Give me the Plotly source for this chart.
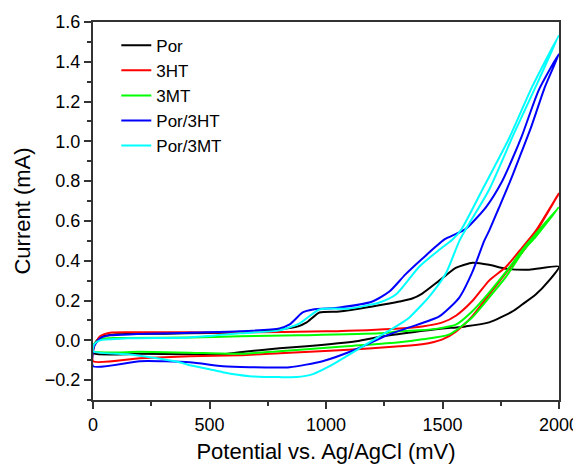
import plotly.graph_objects as go

# ---------------- data (mV, mA) ----------------
por_fwd_x = [0, 5, 30, 100, 300, 630, 800, 880, 917, 972, 1058, 1199, 1272, 1315, 1370, 1413, 1486, 1559, 1630, 1700, 1773, 1872, 2000]
por_fwd_y = [-0.065, -0.02, 0.015, 0.03, 0.033, 0.04, 0.055, 0.07, 0.09, 0.14, 0.145, 0.17, 0.185, 0.195, 0.21, 0.235, 0.30, 0.365, 0.39, 0.38, 0.36, 0.355, 0.37]
por_rev_x = [2000, 1957, 1900, 1842, 1800, 1700, 1600, 1559, 1500, 1400, 1242, 1130, 917, 800, 630, 550, 400, 200, 0]
por_rev_y = [0.37, 0.30, 0.23, 0.18, 0.145, 0.09, 0.07, 0.065, 0.06, 0.045, 0.02, -0.005, -0.03, -0.04, -0.06, -0.07, -0.07, -0.068, -0.065]

p3ht_fwd_x = [0, 5, 30, 73, 200, 415, 630, 1000, 1315, 1413, 1500, 1559, 1630, 1700, 1773, 1842, 1900, 2000]
p3ht_fwd_y = [-0.105, -0.03, 0.02, 0.038, 0.04, 0.04, 0.04, 0.045, 0.06, 0.07, 0.09, 0.125, 0.2, 0.30, 0.37, 0.466, 0.55, 0.74]
p3ht_rev_x = [2000, 1900, 1860, 1773, 1700, 1627, 1559, 1500, 1413, 1315, 1058, 800, 630, 415, 200, 0]
p3ht_rev_y = [0.74, 0.54, 0.47, 0.34, 0.23, 0.12, 0.045, 0.005, -0.02, -0.03, -0.05, -0.065, -0.075, -0.08, -0.09, -0.105]

p3mt_fwd_x = [0, 5, 30, 100, 415, 630, 886, 1229, 1315, 1400, 1486, 1559, 1627, 1700, 1773, 1850, 1900, 2000]
p3mt_fwd_y = [-0.055, -0.02, 0.005, 0.012, 0.014, 0.02, 0.025, 0.035, 0.045, 0.05, 0.06, 0.08, 0.145, 0.24, 0.345, 0.466, 0.535, 0.67]
p3mt_rev_x = [2000, 1900, 1850, 1773, 1700, 1627, 1530, 1413, 1315, 1088, 800, 630, 415, 200, 0]
p3mt_rev_y = [0.67, 0.52, 0.455, 0.32, 0.215, 0.115, 0.03, 0.005, -0.01, -0.03, -0.055, -0.068, -0.062, -0.058, -0.055]

por3ht_fwd_x = [0, 5, 30, 73, 415, 630, 800, 844, 900, 944, 1058, 1199, 1272, 1340, 1413, 1507, 1559, 1600, 1687, 1756, 1799, 1840, 1914, 2000]
por3ht_fwd_y = [-0.13, -0.03, 0.01, 0.025, 0.038, 0.045, 0.06, 0.08, 0.14, 0.155, 0.165, 0.195, 0.245, 0.33, 0.41, 0.506, 0.535, 0.56, 0.67, 0.80, 0.91, 1.025, 1.26, 1.44]
por3ht_rev_x = [2000, 1940, 1880, 1837, 1794, 1740, 1700, 1679, 1627, 1572, 1486, 1358, 1272, 1130, 985, 844, 672, 557, 415, 201, 0]
por3ht_rev_y = [1.44, 1.275, 1.07, 0.94, 0.81, 0.66, 0.55, 0.50, 0.34, 0.215, 0.12, 0.065, 0.03, -0.045, -0.105, -0.135, -0.135, -0.13, -0.11, -0.105, -0.13]

por3mt_fwd_x = [0, 5, 30, 150, 415, 630, 800, 887, 972, 1101, 1229, 1300, 1400, 1486, 1542, 1580, 1671, 1786, 1885, 2000]
por3mt_fwd_y = [-0.055, -0.02, 0.0, 0.01, 0.014, 0.035, 0.05, 0.085, 0.155, 0.16, 0.19, 0.23, 0.37, 0.455, 0.506, 0.556, 0.757, 1.016, 1.275, 1.534]
por3mt_rev_x = [2000, 1900, 1807, 1700, 1575, 1516, 1443, 1358, 1315, 1272, 1158, 1015, 944, 873, 800, 672, 557, 500, 415, 370, 244, 150, 0]
por3mt_rev_y = [1.534, 1.275, 1.04, 0.757, 0.506, 0.34, 0.22, 0.115, 0.08, 0.05, -0.03, -0.13, -0.17, -0.185, -0.185, -0.18, -0.16, -0.145, -0.125, -0.11, -0.085, -0.07, -0.055]

series_names = ["Por", "3HT", "3MT", "Por/3HT", "Por/3MT"]
series_colors = ["#000000", "#FF0000", "#00FF00", "#0000FF", "#00FFFF"]
series_data = [
    (por_fwd_x, por_fwd_y, por_rev_x, por_rev_y),
    (p3ht_fwd_x, p3ht_fwd_y, p3ht_rev_x, p3ht_rev_y),
    (p3mt_fwd_x, p3mt_fwd_y, p3mt_rev_x, p3mt_rev_y),
    (por3ht_fwd_x, por3ht_fwd_y, por3ht_rev_x, por3ht_rev_y),
    (por3mt_fwd_x, por3mt_fwd_y, por3mt_rev_x, por3mt_rev_y),
]

x_ticks = [0, 500, 1000, 1500, 2000]
y_ticks = [-0.2, 0.0, 0.2, 0.4, 0.6, 0.8, 1.0, 1.2, 1.4, 1.6]

fig = go.Figure()
for name, color, (fx, fy, rx, ry) in zip(series_names, series_colors, series_data):
    fig.add_trace(go.Scatter(
        x=fx + rx[1:], y=fy + ry[1:], mode="lines", name=name,
        line=dict(color=color, width=2, shape="spline", smoothing=0.6),
    ))

axis_color = "#333333"
# the page body adds an 8px offset, so the figure is 8px smaller on each axis
fig.update_layout(
    width=573, height=463,
    margin=dict(l=85, r=22, t=14, b=71, autoexpand=False),
    plot_bgcolor="white", paper_bgcolor="white",
    font=dict(family="Liberation Sans, Arial, sans-serif", size=18, color="black"),
    showlegend=True,
    legend=dict(x=0.05, y=0.985, xanchor="left", yanchor="top",
                bgcolor="rgba(0,0,0,0)", font=dict(size=17), tracegroupgap=0),
)
fig.update_xaxes(
    range=[0, 2000], tickvals=x_ticks, showgrid=False, zeroline=False, automargin=False,
    showline=True, linecolor=axis_color, linewidth=2, mirror=True,
    ticks="outside", ticklen=7, tickwidth=1.5, tickcolor=axis_color,
    minor=dict(ticks="outside", ticklen=4, dtick=250, tick0=0, tickwidth=1.5, tickcolor=axis_color),
    title=dict(text="Potential vs. Ag/AgCl (mV)", standoff=10),
)
fig.update_yaxes(
    range=[-0.3, 1.6], tickvals=y_ticks, tickformat=".1f", showgrid=False, zeroline=False, automargin=False,
    showline=True, linecolor=axis_color, linewidth=2, mirror=True,
    ticks="outside", ticklen=7, tickwidth=1.5, tickcolor=axis_color,
    minor=dict(ticks="outside", ticklen=4, dtick=0.1, tick0=0, tickwidth=1.5, tickcolor=axis_color),
    title=dict(text="Current (mA)", standoff=8),
)

fig.write_html("out.html")
